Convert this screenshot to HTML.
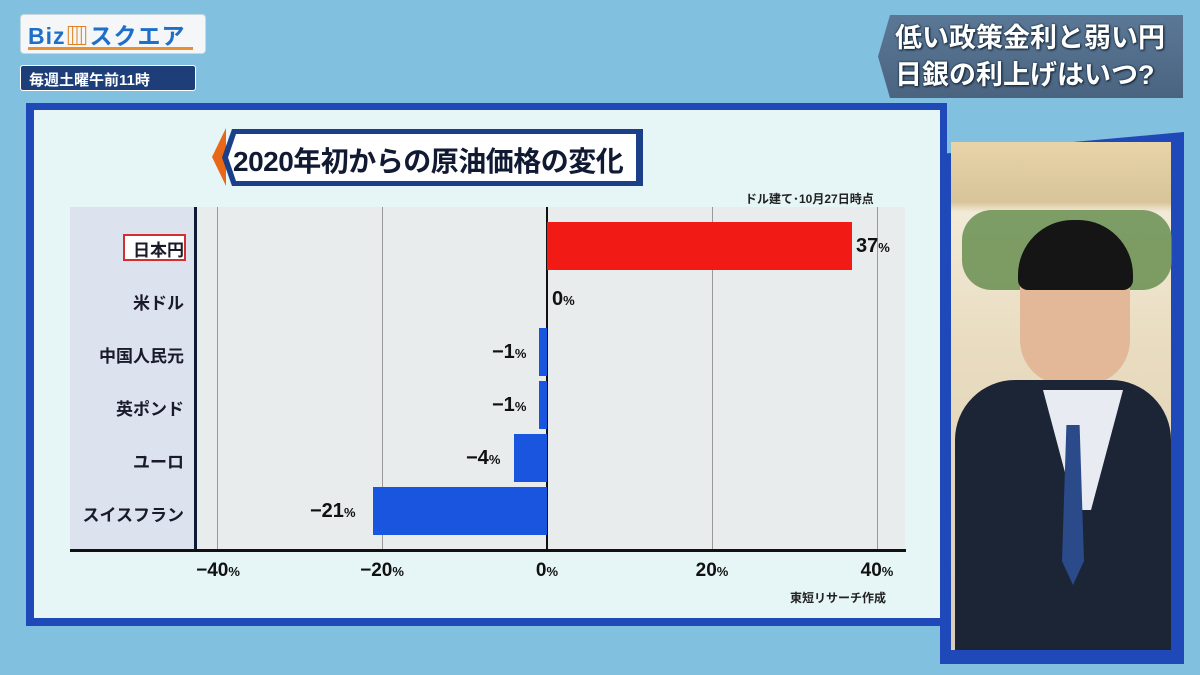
<!DOCTYPE html>
<html><head><meta charset="utf-8"><style>
*{margin:0;padding:0;box-sizing:border-box}
body{width:1200px;height:675px;overflow:hidden;background:#82c0e0;font-family:"Liberation Sans","Noto Sans CJK JP",sans-serif;position:relative}
.a{position:absolute}
.lbl{position:absolute;right:1012px;font-size:17px;color:#1a1a2a;font-weight:bold;text-align:right;width:120px}
.val{position:absolute;font-size:20px;font-weight:bold;color:#111}
.val small{font-size:13px}
.tick{position:absolute;top:560px;font-size:19px;font-weight:bold;color:#111;width:80px;text-align:center}
.tick small{font-size:13px}
</style></head><body>
<!-- logo -->
<div class="a" style="left:20px;top:14px;width:186px;height:40px;background:#f4f6f8;border-radius:4px;border:1px solid #c8d8e0"></div>
<div class="a" style="left:28px;top:17px;font-size:23px;font-weight:bold;color:#1e6fc8;letter-spacing:1px">Biz<span style="color:#e08020">▥</span>スクエア</div>
<div class="a" style="left:28px;top:47px;width:165px;height:3px;background:#e89030"></div>
<div class="a" style="left:20px;top:65px;width:176px;height:26px;background:#1d3e78;border:1px solid #fff;border-radius:3px;color:#fff;font-size:15px;font-weight:bold;padding:3px 8px">毎週土曜午前11時</div>
<!-- top right banner -->
<div class="a" style="left:878px;top:15px;width:305px;height:83px;background:linear-gradient(#5a7896,#4a6480);clip-path:polygon(12px 0,100% 0,100% 100%,12px 100%,0 50%)"></div>
<div class="a" style="left:895px;top:20px;color:#fff;font-size:27px;line-height:37px;font-weight:bold;text-shadow:0 0 2px #123,1px 1px 2px #123;white-space:nowrap">低い政策金利と弱い円<br>日銀の利上げはいつ?</div>
<!-- chart frame -->
<div class="a" style="left:26px;top:103px;width:921px;height:523px;background:#1f48b8"></div>
<div class="a" style="left:34px;top:110px;width:906px;height:508px;background:#e6f6f7"></div>
<!-- title -->
<div class="a" style="left:212px;top:128px;width:14px;height:58px;background:#e86818;clip-path:polygon(100% 0,100% 100%,0 50%)"></div>
<div class="a" style="left:222px;top:129px;width:421px;height:57px;background:#1c3f8a;clip-path:polygon(10px 0,100% 0,100% 100%,10px 100%,0 50%)"></div>
<div class="a" style="left:228px;top:134px;width:408px;height:47px;background:#fff;clip-path:polygon(8px 0,100% 0,100% 100%,8px 100%,0 50%)"></div>
<div class="a" style="left:233px;top:140px;font-size:28px;font-weight:bold;color:#111a33;letter-spacing:-0.5px;white-space:nowrap">2020年初からの原油価格の変化</div>
<div class="a" style="left:745px;top:190px;font-size:12px;font-weight:bold;color:#222">ドル建て･10月27日時点</div>
<!-- plot -->
<div class="a" style="left:70px;top:207px;width:125px;height:343px;background:#dde3ee"></div>
<div class="a" style="left:195px;top:207px;width:710px;height:343px;background:#e8ecec"></div>
<div class="a" style="left:217px;top:207px;width:1px;height:343px;background:#999"></div>
<div class="a" style="left:382px;top:207px;width:1px;height:343px;background:#999"></div>
<div class="a" style="left:712px;top:207px;width:1px;height:343px;background:#999"></div>
<div class="a" style="left:877px;top:207px;width:1px;height:343px;background:#999"></div>
<div class="a" style="left:194px;top:207px;width:3px;height:343px;background:#111a33"></div>
<div class="a" style="left:546px;top:207px;width:2px;height:343px;background:#111"></div>
<div class="a" style="left:70px;top:549px;width:836px;height:3px;background:#111"></div>
<!-- bars -->
<div class="a" style="left:547px;top:222px;width:305px;height:48px;background:#f21a14"></div>
<div class="a" style="left:539px;top:328px;width:8px;height:48px;background:#1a55e0"></div>
<div class="a" style="left:539px;top:381px;width:8px;height:48px;background:#1a55e0"></div>
<div class="a" style="left:514px;top:434px;width:33px;height:48px;background:#1a55e0"></div>
<div class="a" style="left:373px;top:487px;width:174px;height:48px;background:#1a55e0"></div>
<!-- labels -->
<div class="a" style="left:123px;top:234px;width:63px;height:27px;border:2px solid #d03030;background:#fff"></div>
<div class="lbl" style="left:64px;top:236px">日本円</div>
<div class="lbl" style="left:64px;top:289px">米ドル</div>
<div class="lbl" style="left:64px;top:342px">中国人民元</div>
<div class="lbl" style="left:64px;top:395px">英ポンド</div>
<div class="lbl" style="left:64px;top:448px">ユーロ</div>
<div class="lbl" style="left:64px;top:501px">スイスフラン</div>
<div class="val" style="left:856px;top:235px">37<small>%</small></div>
<div class="val" style="left:552px;top:288px">0<small>%</small></div>
<div class="val" style="left:492px;top:341px">−1<small>%</small></div>
<div class="val" style="left:492px;top:394px">−1<small>%</small></div>
<div class="val" style="left:466px;top:447px">−4<small>%</small></div>
<div class="val" style="left:310px;top:500px">−21<small>%</small></div>
<div class="tick" style="left:178px">−40<small>%</small></div>
<div class="tick" style="left:342px">−20<small>%</small></div>
<div class="tick" style="left:507px">0<small>%</small></div>
<div class="tick" style="left:672px">20<small>%</small></div>
<div class="tick" style="left:837px">40<small>%</small></div>
<div class="a" style="left:790px;top:589px;font-size:12px;font-weight:bold;color:#222">東短リサーチ作成</div>
<!-- right photo panel -->
<div class="a" style="left:940px;top:132px;width:244px;height:532px;background:#1f48b8;clip-path:polygon(0 22px,100% 0,100% 100%,0 100%)"></div>
<div class="a" style="left:951px;top:142px;width:220px;height:508px;background:linear-gradient(#e8d4a8 0,#d8c49a 60px,#f2ead8 70px,#e9dcc0 200px,#d8cdb8 100%)"></div>
<div class="a" style="left:962px;top:210px;width:210px;height:80px;background:#5f8a48;border-radius:30px;opacity:.8"></div>
<div class="a" style="left:1020px;top:225px;width:110px;height:160px;background:#e2b898;border-radius:50px 50px 45px 45px"></div>
<div class="a" style="left:1018px;top:220px;width:115px;height:70px;background:#151515;border-radius:55px 55px 10px 10px"></div>
<div class="a" style="left:955px;top:380px;width:216px;height:270px;background:#1c2536;border-radius:60px 60px 0 0"></div>
<div class="a" style="left:1043px;top:390px;width:80px;height:120px;background:#e8ecf2;clip-path:polygon(0 0,100% 0,60% 100%,40% 100%)"></div>
<div class="a" style="left:1062px;top:425px;width:22px;height:160px;background:#2a4a8a;clip-path:polygon(20% 0,80% 0,100% 85%,50% 100%,0 85%)"></div>
</body></html>
